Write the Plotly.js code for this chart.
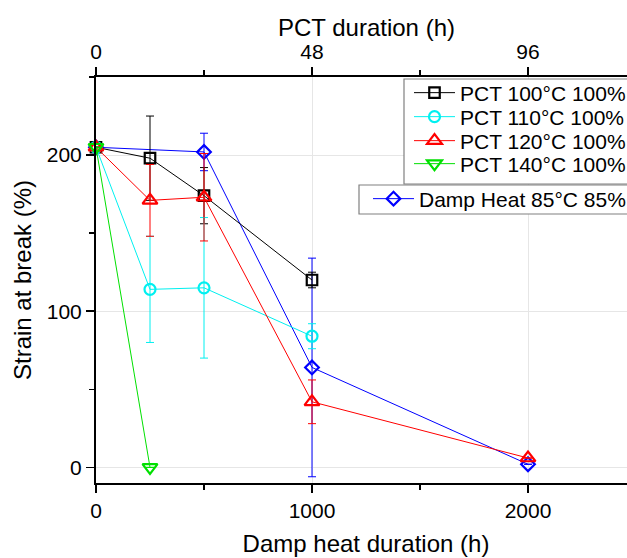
<!DOCTYPE html>
<html>
<head>
<meta charset="utf-8">
<script src="https://cdn.plot.ly/plotly-3.0.1.min.js"></script>
<style>
html,body{margin:0;padding:0;overflow:hidden;background:#fff;}
#chart{width:660px;height:558px;}
</style>
</head>
<body>
<div id="chart"></div>
<script>
// PCT series (top axis, hours)
const pct100Hours = [0, 12, 24, 48];
const pct100Strain = [205, 198, 174, 120];
const pct100Err = [0, 27, 18, 5];

const pct110Hours = [0, 12, 24, 48];
const pct110Strain = [205, 114, 115, 84];
const pct110Err = [0, 34, 45, 8];

const pct120Hours = [0, 12, 24, 48, 96];
const pct120Strain = [205, 171, 173, 42, 6];
const pct120Err = [0, 23, 28, 14, 0];

const pct140Hours = [0, 12];
const pct140Strain = [205, 0];
const pct140Err = [0, 0];

// Damp heat series (bottom axis, hours)
const dhHours = [0, 500, 1000, 2000];
const dhStrain = [205, 202, 64, 2];
const dhErr = [0, 12, 70, 0];

const seriesNames = ['PCT 100°C 100%', 'PCT 110°C 100%', 'PCT 120°C 100%', 'PCT 140°C 100%', 'Damp Heat 85°C 85%'];
const topAxisTitle = 'PCT duration (h)';

const FONT = 'Liberation Sans, Arial, Helvetica, sans-serif';

function mk(name, x, y, err, color, symbol, size, xaxis, legend) {
  return {
    type: 'scatter', mode: 'lines+markers', name: name,
    x: x, y: y, xaxis: xaxis, yaxis: 'y', legend: legend,
    line: {color: color, width: 1},
    marker: {symbol: symbol, size: size, color: color, line: {color: color, width: 2.2}},
    error_y: {type: 'data', array: err, visible: true, color: color, thickness: 1, width: 4},
    cliponaxis: false
  };
}

const traces = [
  mk(seriesNames[0], pct100Hours, pct100Strain, pct100Err, '#000000', 'square-open', 10.5, 'x2', 'legend'),
  mk(seriesNames[1], pct110Hours, pct110Strain, pct110Err, '#00f0f0', 'circle-open', 11, 'x2', 'legend2'),
  mk(seriesNames[2], pct120Hours, pct120Strain, pct120Err, '#ff0000', 'triangle-up-open', 13, 'x2', 'legend3'),
  mk(seriesNames[3], pct140Hours, pct140Strain, pct140Err, '#00e000', 'triangle-down-open', 13, 'x2', 'legend4'),
  mk(seriesNames[4], dhHours, dhStrain, dhErr, '#0000ff', 'diamond-open', 10.5, 'x', 'legend5')
];

const plotTop = 77, plotBottom = 483, plotH = plotBottom - plotTop;
const plotLeft = 96, plotW = 540;
const py = v => (plotBottom - v) / plotH;
const px = v => (v - plotLeft) / plotW;

function leg(xpx, ypx) {
  return {
    x: px(xpx), y: py(ypx), xanchor: 'left', yanchor: 'middle',
    bgcolor: 'rgba(0,0,0,0)', borderwidth: 0,
    font: {family: FONT, size: 21, color: '#000'},
    itemwidth: 41, tracegroupgap: 0
  };
}

const axisCommon = {
  showline: true, linecolor: '#000', linewidth: 2,
  ticks: 'outside', ticklen: 8, tickwidth: 1.5, tickcolor: '#000',
  tickfont: {family: FONT, size: 21, color: '#000'},
  zeroline: false, automargin: false
};

const layout = {
  width: 660, height: 558,
  margin: {l: plotLeft, r: 660 - plotLeft - plotW, t: plotTop, b: 558 - plotBottom, autoexpand: false},
  paper_bgcolor: '#fff', plot_bgcolor: '#fff',
  font: {family: FONT, color: '#000'},
  showlegend: true,
  xaxis: Object.assign({}, axisCommon, {
    range: [0, 2500], tick0: 0, dtick: 1000,
    minor: {dtick: 500, ticks: 'outside', ticklen: 5, tickwidth: 1.5, tickcolor: '#000', showgrid: false},
    showgrid: true, gridcolor: '#e6e6e6', gridwidth: 1,
    title: {text: 'Damp heat duration (h)', font: {family: FONT, size: 24, color: '#000'}, standoff: 14}
  }),
  xaxis2: Object.assign({}, axisCommon, {
    overlaying: 'x', side: 'top', anchor: 'y',
    range: [0, 120], tick0: 0, dtick: 48,
    minor: {dtick: 24, ticks: 'outside', ticklen: 5, tickwidth: 1.5, tickcolor: '#000', showgrid: false},
    showgrid: false
  }),
  yaxis: Object.assign({}, axisCommon, {
    range: [-10, 250], tick0: 0, dtick: 100,
    minor: {dtick: 50, ticks: 'outside', ticklen: 5, tickwidth: 1.5, tickcolor: '#000', showgrid: false},
    showgrid: true, gridcolor: '#e6e6e6', gridwidth: 1,
    title: {text: 'Strain at break (%)', font: {family: FONT, size: 24, color: '#000'}, standoff: 8}
  }),
  annotations: [
    {text: topAxisTitle, xref: 'paper', yref: 'paper', x: px(366), y: py(27),
     xanchor: 'center', yanchor: 'middle', showarrow: false,
     font: {family: FONT, size: 24, color: '#000'}}
  ],
  legend: leg(409, 93),
  legend2: leg(409, 117),
  legend3: leg(409, 141),
  legend4: leg(409, 164),
  legend5: leg(368, 199),
  shapes: [
    {type: 'rect', xref: 'paper', yref: 'paper', x0: px(404), x1: 1.2, y0: py(184), y1: py(79),
     fillcolor: '#ffffff', line: {color: '#808080', width: 1.2}, layer: 'above'},
    {type: 'rect', xref: 'paper', yref: 'paper', x0: px(359), x1: 1.2, y0: py(214), y1: py(185),
     fillcolor: '#ffffff', line: {color: '#808080', width: 1.2}, layer: 'above'}
  ]
};

Plotly.newPlot('chart', traces, layout, {displayModeBar: false, staticPlot: true});
</script>
</body>
</html>
